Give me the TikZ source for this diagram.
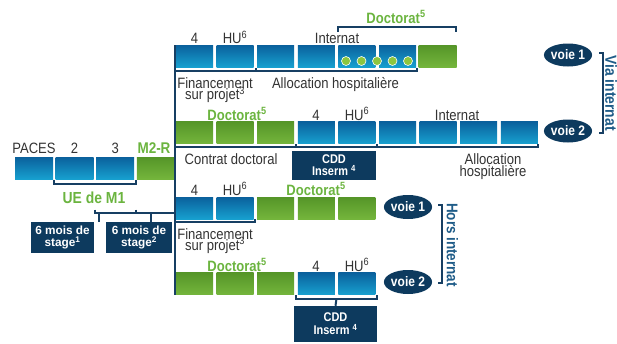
\documentclass[tikz,border=0pt]{standalone}
\usepackage{fontspec}
\setmainfont{Liberation Sans}[FakeStretch=0.87]
\newfontfamily\wideboxfont{Liberation Sans}
\usetikzlibrary{shapes.geometric}
\definecolor{bluetop}{HTML}{0A609C}
\definecolor{bluebot}{HTML}{17A0CF}
\definecolor{greentop}{HTML}{559528}
\definecolor{greenbot}{HTML}{74B53C}
\definecolor{navy}{HTML}{0D3A5E}
\definecolor{navyline}{HTML}{173F63}
\definecolor{grtxt}{HTML}{6BB43F}
\definecolor{txtgray}{HTML}{333333}
\definecolor{dotgreen}{HTML}{8CC63F}
\definecolor{sidetxt}{HTML}{1F5C88}
\newcommand\sups[1]{\textsuperscript{#1}}
\begin{document}
\begin{tikzpicture}[x=1pt,y=-1pt,
  bbox/.style={minimum width=37pt,minimum height=22pt,inner sep=0pt,top color=bluetop,bottom color=bluebot,draw=none},
  gbox/.style={minimum width=37pt,minimum height=22pt,inner sep=0pt,top color=greentop,bottom color=greenbot,draw=none},
  lbl/.style={font=\fontsize{15}{15}\selectfont,text=txtgray,inner sep=0pt,anchor=base},
  glbl/.style={font=\bfseries\fontsize{15}{15}\selectfont,text=grtxt,inner sep=0pt,anchor=base},
  navybox/.style={fill=navy,text=white,font=\wideboxfont\bfseries\fontsize{11.8}{11.7}\selectfont,align=center,inner sep=0pt},
  cddbox/.style={fill=navy,text=white,font=\bfseries\fontsize{12.6}{12}\selectfont,align=center,inner sep=0pt},
  voie/.style={ellipse,fill=navy,text=white,font=\bfseries\fontsize{13.8}{13.8}\selectfont,minimum width=46pt,minimum height=23pt,inner sep=0pt},
  brk/.style={draw=navyline,line width=2pt},
  dot/.style={circle,fill=dotgreen,draw=white,line width=0.6pt,minimum size=9pt,inner sep=0pt},
  side/.style={font=\bfseries\fontsize{16}{16}\selectfont,text=sidetxt,inner sep=0pt,rotate=-90}
]
\useasboundingbox (0,0) rectangle (617,343);

% left row
\foreach \i/\x in {0/34,1/74.6,2/115.2}
  \node[bbox,minimum width=38pt] (l\i) at (\x,168) {};
\node[gbox,minimum width=38pt] (l3) at (155.8,168) {};
\node[lbl] (tpaces) at (34,153) {PACES};
\node[lbl] (t2) at (74.6,153) {2};
\node[lbl] (t3) at (115.2,153) {3};
\node[glbl,font=\bfseries\fontsize{15.5}{15.5}\selectfont] (tm2r) at (154,153) {M2-R};

% UE de M1 bracket
\draw[brk] (54,180) -- (54,184) -- (136,184) -- (136,180);
\node[glbl,font=\bfseries\fontsize{16}{16}\selectfont] (tue) at (94,203) {UE de M1};

% stage boxes
\node[navybox,minimum width=63pt,minimum height=31pt] (s1) at (62.5,237.5) {6 mois de\\stage\sups{1}};
\node[navybox,minimum width=66pt,minimum height=31pt] (s2) at (139,237.5) {6 mois de\\stage\sups{2}};
\draw[brk] (95,209.5) -- (95,213) -- (174.5,213);
\draw[brk] (136,209.5) -- (136,213);
\draw[brk] (99,213) -- (s1.north -| 99,0);
\draw[brk] (151,213) -- (s2.north -| 151,0);

% trunk
\draw[brk] (174.5,45) -- (174.5,294.5);

% row 1
\foreach \i in {0,...,5}
  \node[bbox] (a\i) at ({194.5+40.6*\i},56) {};
\node[gbox,minimum width=38pt] (a6) at (437.6,56) {};
\foreach \i/\x in {1/346,2/361.5,3/377,4/392.5,5/408}
  \node[dot] (d\i) at (\x,61) {};
\node[lbl] (r1t4) at (194.5,43.5) {4};
\node[lbl] (r1hu) at (235,43.5) {HU\sups{6}};
\node[lbl] (r1int) at (337,43.5) {Internat};
\node[glbl] (r1doc) at (396,23) {Doctorat\sups{5}};
\draw[brk] (338,32) -- (338,27) -- (456,27) -- (456,32);
\draw[brk] (174.5,71) -- (417,71) -- (417,67.5);
\draw[brk] (256,71) -- (256,67.5);
\node[lbl] (r1fin) at (215,88.5) {Financement};
\node[lbl] (r1sur) at (215,99.5) {sur projet\sups{3}};
\node[lbl] (r1all) at (335.5,88.5) {Allocation hospitalière};

% row 2
\foreach \i in {0,...,2}
  \node[gbox] (b\i) at ({194.5+40.6*\i},132.5) {};
\foreach \i in {3,...,8}
  \node[bbox] (b\i) at ({194.5+40.6*\i},132.5) {};
\node[glbl] (r2doc) at (237,120) {Doctorat\sups{5}};
\node[lbl] (r2t4) at (316,120) {4};
\node[lbl] (r2hu) at (357,120) {HU\sups{6}};
\node[lbl] (r2int) at (457,120) {Internat};
\draw[brk] (174.5,147) -- (538,147) -- (538,144);
\draw[brk] (296,147) -- (296,144);
\draw[brk] (376.5,147) -- (376.5,144);
\node[cddbox,minimum width=84pt,minimum height=29pt] (c1) at (334,165.5) {CDD\\Inserm \sups{4}};
\node[lbl] (r2con) at (231,164) {Contrat doctoral};
\node[lbl] (r2all) at (493,164) {Allocation};
\node[lbl] (r2hos) at (493,176) {hospitalière};

% row 3
\foreach \i in {0,1}
  \node[bbox] (c\i x) at ({194.5+40.6*\i},208) {};
\foreach \i in {2,3,4}
  \node[gbox] (c\i x) at ({194.5+40.6*\i},208) {};
\node[lbl] (r3t4) at (194.5,195) {4};
\node[lbl] (r3hu) at (235,195) {HU\sups{6}};
\node[glbl] (r3doc) at (316,195) {Doctorat\sups{5}};
\draw[brk] (174.5,222) -- (255,222) -- (255,219);
\node[lbl] (r3fin) at (215,239) {Financement};
\node[lbl] (r3sur) at (215,250) {sur projet\sups{3}};

% row 4
\foreach \i in {0,1,2}
  \node[gbox] (e\i) at ({194.5+40.6*\i},283.5) {};
\foreach \i in {3,4}
  \node[bbox] (e\i) at ({194.5+40.6*\i},283.5) {};
\node[glbl] (r4doc) at (237,271) {Doctorat\sups{5}};
\node[lbl] (r4t4) at (316,271) {4};
\node[lbl] (r4hu) at (357,271) {HU\sups{6}};
\node[cddbox,font=\bfseries\fontsize{12.6}{13}\selectfont,minimum width=83pt,minimum height=36pt] (c2) at (335.5,324) {CDD\\Inserm \sups{4}};
\draw[brk] (296,295) -- (296,298.5) -- (377,298.5) -- (377,295);
\draw[brk] (336.5,298.5) -- (c2.north);

% voies
\node[voie] (v1) at (568,55) {voie 1};
\node[voie] (v2) at (568,131) {voie 2};
\node[voie,minimum width=47pt,minimum height=24pt] (h1) at (408,207) {voie 1};
\node[voie,minimum width=47pt,minimum height=24pt] (h2) at (408,282) {voie 2};
\draw[brk] (599,53) -- (603,53) -- (603,133) -- (599,133);
\draw[brk] (438,205) -- (442,205) -- (442,283) -- (438,283);
\node[side] (via) at (611,93) {Via internat};
\node[side,font=\bfseries\fontsize{15.5}{15.5}\selectfont] (hors) at (452.5,245) {Hors internat};
\end{tikzpicture}
\end{document}
